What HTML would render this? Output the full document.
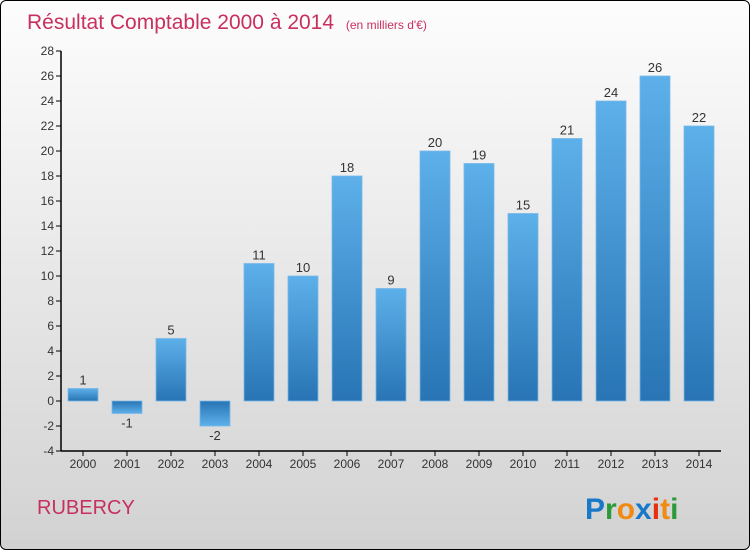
<!DOCTYPE html>
<html><head><meta charset="utf-8"><style>
body{margin:0}
#c{width:748px;height:548px;border:1px solid #000;border-radius:6px;background:linear-gradient(#fdfdfd,#d2d2d2);position:relative;overflow:hidden;font-family:"Liberation Sans",sans-serif}
</style></head><body>
<div id="c">
<svg width="748" height="548" id="s" font-family="'Liberation Sans',sans-serif">
<defs>
<linearGradient id="gp" x1="0" y1="0" x2="0" y2="1"><stop offset="0" stop-color="#5db0ea"/><stop offset="1" stop-color="#2874b4"/></linearGradient>
<linearGradient id="gn" x1="0" y1="0" x2="0" y2="1"><stop offset="0" stop-color="#2874b4"/><stop offset="1" stop-color="#5db0ea"/></linearGradient>
</defs>
<text x="26" y="28" font-size="21" fill="#c8305f">Résultat Comptable 2000 à 2014 <tspan font-size="12" dx="6">(en milliers d'€)</tspan></text>
<text x="36" y="513" font-size="20" fill="#c8305f">RUBERCY</text>
<g font-size="30" font-weight="bold">
<text x="584" y="518"><tspan fill="#1a78c8">P</tspan><tspan fill="#2a9a3a">r</tspan><tspan fill="#f08a10">o</tspan><tspan fill="#1a78c8">x</tspan><tspan fill="#e83010">i</tspan><tspan fill="#f08a10">t</tspan><tspan fill="#2a9a3a">i</tspan></text>
</g>
</svg>
</div>
<script>
const years=["2000","2001","2002","2003","2004","2005","2006","2007","2008","2009","2010","2011","2012","2013","2014"];
const values=[1,-1,5,-2,11,10,18,9,20,19,15,21,24,26,22];
const yTicks=[-4,-2,0,2,4,6,8,10,12,14,16,18,20,22,24,26,28];
const s=document.getElementById('s');
const NS='http://www.w3.org/2000/svg';
const y=v=>400-(v)*12.5;
const x=i=>82+i*44;
function mk(t,a){const e=document.createElementNS(NS,t);for(const k in a)e.setAttribute(k,a[k]);s.appendChild(e);return e;}
let ax=mk('line',{x1:60,y1:50,x2:60,y2:450,stroke:'#000','stroke-width':1.5});


let bx=mk('line',{x1:60,y1:450,x2:720,y2:450,stroke:'#000','stroke-width':1.5});


yTicks.forEach(v=>{
 let t=mk('line',{x1:55,x2:60,y1:y(v),y2:y(v),stroke:'#000'});
 
 
 let l=mk('text',{x:53,y:y(v)+4,'font-size':12,fill:'#333','text-anchor':'end'});
 l.textContent=v;
 
 
});
years.forEach((yr,i)=>{
 const v=values[i];
 let t=mk('line',{x1:x(i),x2:x(i),y1:450,y2:455,stroke:'#000'});
 
 
 let l=mk('text',{x:x(i),y:467,'font-size':12,fill:'#333','text-anchor':'middle'});
 l.textContent=yr;
 
 
 const top=Math.min(y(v),y(0)),h=Math.abs(y(v)-y(0));
 let b=mk('rect',{x:x(i)-15,y:top,width:30,height:h,fill:v>=0?'url(#gp)':'url(#gn)',stroke:'#7ab8e8','stroke-width':0.8});
 
 
 let vl=mk('text',{x:x(i),y:v>=0?y(v)-4:y(v)+14,'font-size':13,fill:'#333','text-anchor':'middle'});
 vl.textContent=v;
 
 
});
</script>
</body></html>
